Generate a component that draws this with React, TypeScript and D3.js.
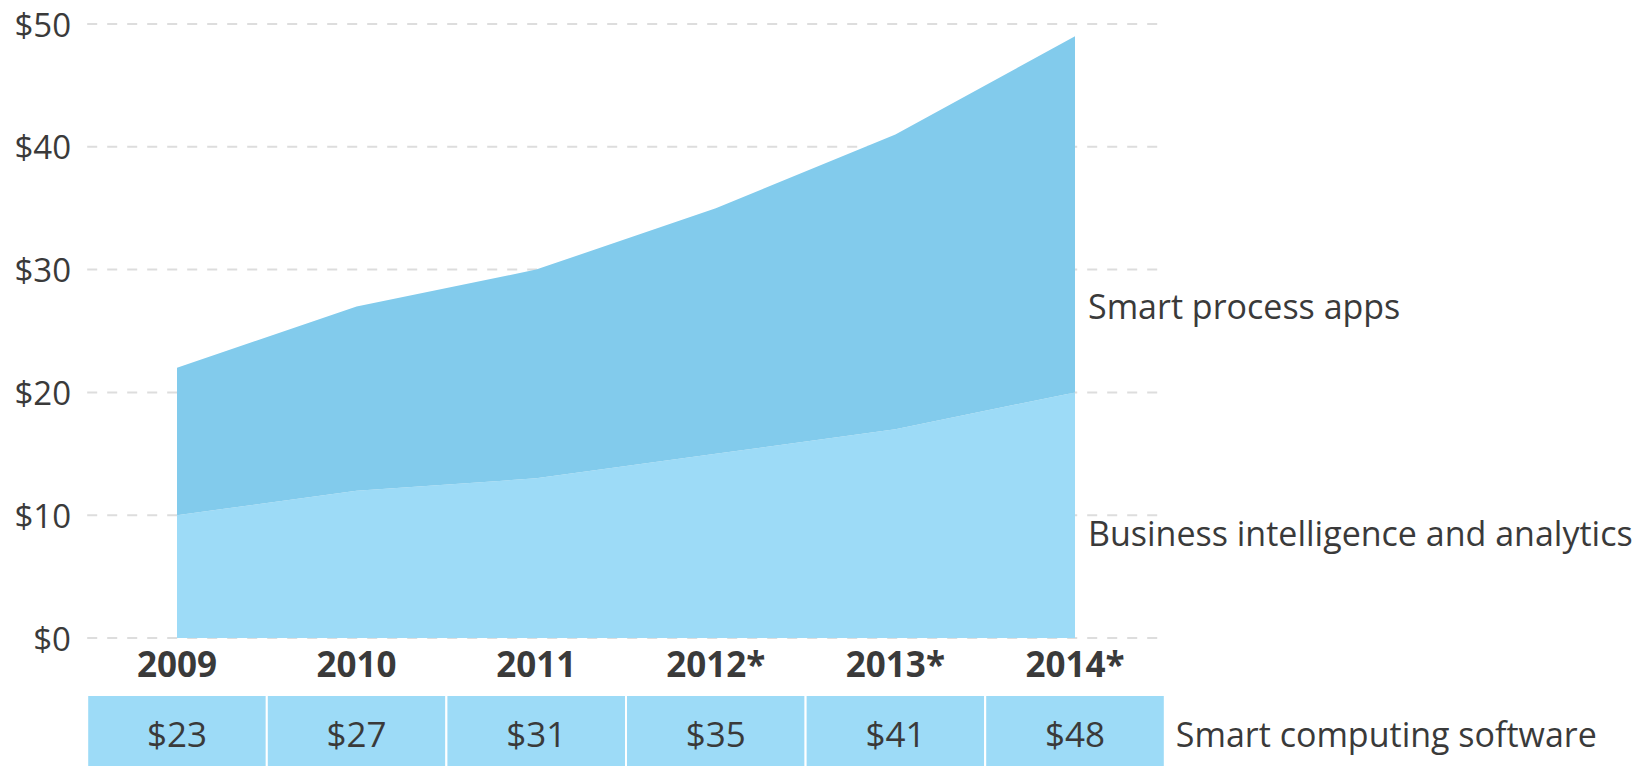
import React, { useEffect, useRef } from "react";
import { select, scalePoint, scaleLinear, area, stack, curveLinear } from "d3";

const years = ["2009", "2010", "2011", "2012*", "2013*", "2014*"];
const businessIntelligence = [10, 12, 13, 15, 17, 20];
const smartProcessApps = [12, 15, 17, 20, 24, 29];
const smartComputingTotals = [23, 27, 31, 35, 41, 48];
const yTicks = [0, 10, 20, 30, 40, 50];

const seriesKeys = ["bi", "spa"];
const seriesLabels = { bi: "Business intelligence and analytics", spa: "Smart process apps" };
const seriesColors = { bi: "#9ddbf7", spa: "#82cbec" };

const FONT = "'Open Sans', sans-serif";
const TEXT = "#3a3a3a";

export default function App() {
  const svgRef = useRef(null);

  useEffect(() => {
    const svg = select(svgRef.current);
    svg.selectAll("*").remove();

    const rows = years.map((year, i) => ({
      year,
      bi: businessIntelligence[i],
      spa: smartProcessApps[i],
    }));

    // scales
    const x = scalePoint().domain(years).range([177, 1075]);
    const step = x.step();
    const y = scaleLinear().domain([0, 50]).range([638, 24]);

    const left = x(years[0]) - step / 2;
    const right = x(years[years.length - 1]) + step / 2;

    // grid
    svg
      .append("g")
      .selectAll("line")
      .data(yTicks)
      .join("line")
      .attr("x1", left)
      .attr("x2", right + 2)
      .attr("y1", (d) => y(d))
      .attr("y2", (d) => y(d))
      .attr("stroke", "#dddddd")
      .attr("stroke-width", 2)
      .attr("stroke-dasharray", "10,10");

    svg
      .append("g")
      .selectAll("text")
      .data(yTicks)
      .join("text")
      .attr("x", 71)
      .attr("y", (d) => y(d))
      .attr("dy", "0.38em")
      .attr("text-anchor", "end")
      .attr("font-family", FONT)
      .attr("font-size", 33)
      .attr("fill", TEXT)
      .text((d) => `$${d}`);

    // stacked areas
    const layers = stack().keys(seriesKeys)(rows);
    const areaGen = area()
      .x((d) => x(d.data.year))
      .y0((d) => y(d[0]))
      .y1((d) => y(d[1]))
      .curve(curveLinear);

    svg
      .append("g")
      .selectAll("path")
      .data(layers)
      .join("path")
      .attr("fill", (d) => seriesColors[d.key])
      .attr("d", areaGen);

    // series labels, to the right of the last year
    const lastYear = years[years.length - 1];
    svg
      .append("g")
      .selectAll("text")
      .data(layers)
      .join("text")
      .attr("x", x(lastYear) + 13)
      .attr("y", (d) => (d.key === "spa" ? y(26) : y(7.5)))
      .attr("font-family", FONT)
      .attr("font-size", 34)
      .attr("fill", TEXT)
      .text((d) => seriesLabels[d.key]);

    // year labels
    svg
      .append("g")
      .selectAll("text")
      .data(years)
      .join("text")
      .attr("x", (d) => x(d))
      .attr("y", 677)
      .attr("text-anchor", "middle")
      .attr("font-family", FONT)
      .attr("font-weight", "bold")
      .attr("font-size", 35)
      .attr("fill", TEXT)
      .text((d) => d);

    // table of totals
    const table = svg.append("g");
    table
      .selectAll("rect")
      .data(years)
      .join("rect")
      .attr("x", (d) => x(d) - step / 2)
      .attr("y", 695)
      .attr("width", step)
      .attr("height", 80)
      .attr("fill", "#9ddbf7")
      .attr("stroke", "#ffffff")
      .attr("stroke-width", 2);

    table
      .selectAll("text")
      .data(smartComputingTotals)
      .join("text")
      .attr("x", (d, i) => x(years[i]))
      .attr("y", 747)
      .attr("text-anchor", "middle")
      .attr("font-family", FONT)
      .attr("font-size", 35)
      .attr("fill", TEXT)
      .text((d) => `$${d}`);

    svg
      .append("text")
      .attr("x", right + 11)
      .attr("y", 747)
      .attr("font-family", FONT)
      .attr("font-size", 34)
      .attr("fill", TEXT)
      .text("Smart computing software");
  }, []);

  return (
    <svg
      ref={svgRef}
      width={1632}
      height={766}
      style={{ position: "absolute", left: 0, top: 0, background: "#ffffff" }}
    />
  );
}
